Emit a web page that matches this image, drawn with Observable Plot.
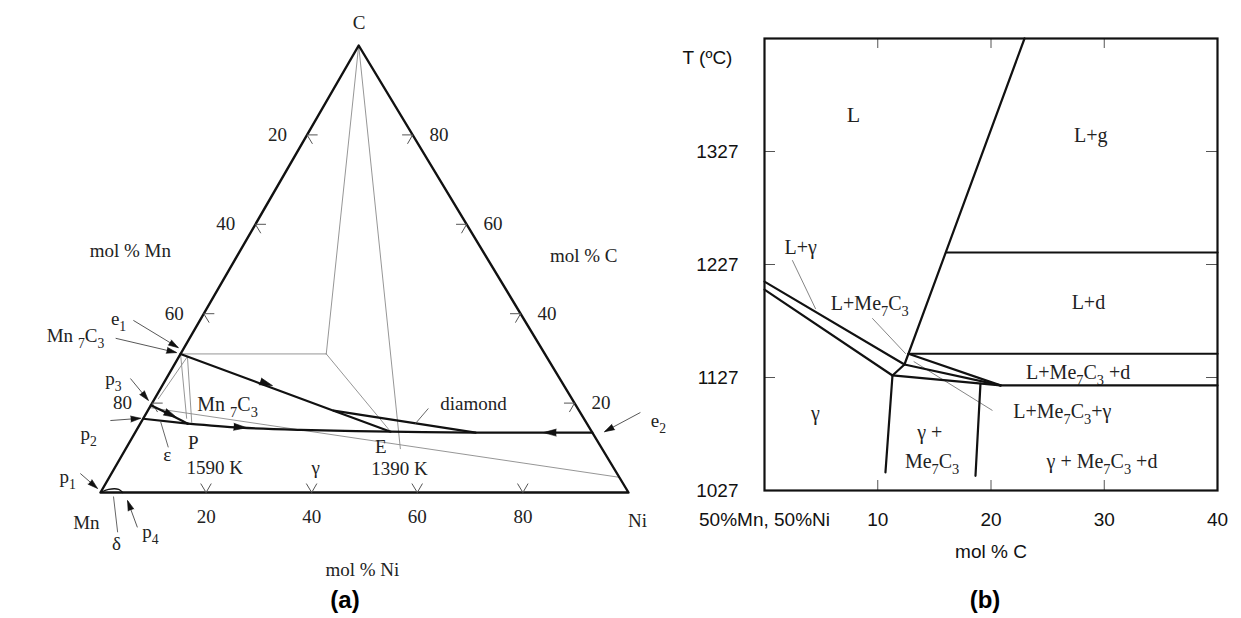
<!DOCTYPE html>
<html>
<head>
<meta charset="utf-8">
<script src="https://cdn.jsdelivr.net/npm/d3@7"></script>
<script src="https://cdn.jsdelivr.net/npm/@observablehq/plot@0.6"></script>
<style>
  body { margin: 0; background: #fff; }
  #wrap { position: relative; width: 1241px; height: 618px; overflow: hidden; background: #fff; }
  #wrap svg { position: absolute; left: 0; top: 0; }
  .cap { position: absolute; font: bold 24px "Liberation Sans", Arial, sans-serif; transform: translate(-50%, -50%); }
</style>
</head>
<body>
<div id="wrap">
  <div class="cap" style="left:345px;top:600px">(a)</div>
  <div class="cap" style="left:985px;top:600px">(b)</div>
</div>
<script>
// ---------- (a) Mn–Ni–C liquidus projection; compositions are [mol % Ni, mol % C] ----------
const triangle = [[0, 0], [100, 0], [0, 100], [0, 0]];
const gridTicks = [20, 40, 60, 80];

// monovariant (bold) lines
const p3ToP = [[0, 19.5], [4.7, 17.4], [9, 15.4]];
const p2ToP = [[0, 16.5], [9, 15.4]];
const pToE2 = [[9, 15.4], [19.4, 14.5], [31, 14], [48.3, 13.6], [64.5, 13.4], [86.6, 13.4]];
const e1ToE = [[0, 31], [35.2, 18.3], [48.3, 13.6]];
const diamondEdge = [[35.2, 18.3], [64.5, 13.4]];
const deltaField = [[0, 0], [1.2, 0.7], [3.1, 0.7], [4.2, 0]];

// thin tie lines
const tieLines = [
  [[0, 31], [27.6, 31]],
  [[27.6, 31], [0, 100]],
  [[27.6, 31], [48.3, 13.6]],
  [[0, 100], [52, 9.8]],
  [[0, 19], [96.6, 3.4]],
  [[0, 31], [8.2, 16.6]],
  [[1.6, 30.4], [9.6, 15.7]],
  [[1.6, 30.4], [0.7, 21]]
];

// arrows pointing at the invariant points
const pointers = [
  {from: [-12.6, 38.5], to: [-1.1, 32.4]},
  {from: [-14, 34.5], to: [-0.9, 31.3]},
  {from: [-6.8, 25.5], to: [-1.0, 20.6]},
  {from: [-6, 16.1], to: [-0.5, 16.6]},
  {from: [-5.9, 4.25], to: [-1, 0.9]},
  {from: [10.8, -7.8], to: [6, -1.8]},
  {from: [93.5, 17.9], to: [88.8, 13.6]}
];
// leader lines without heads
const leaders = [
  {from: [7.6, -8.9], to: [2.9, -0.9]},
  {from: [7.9, 10.1], to: [3.6, 15.9]},
  {from: [52.9, 18.8], to: [52.1, 15.4]}
];
// direction of falling temperature along the monovariant lines
const flowHeads = [
  {from: [0, 31], to: [20.9, 23.9]},
  {from: [0, 19.5], to: [6.2, 16.8]},
  {from: [9, 15.4], to: [20.6, 14.5]},
  {from: [86.6, 13.4], to: [77.3, 13.4]}
];

const labelsA = [
  {text: "C", at: [-2.4, 105.1]},
  {text: "Mn", at: [0.7, -6.9]},
  {text: "Ni", at: [104.8, -6.3]},
  {text: "mol % Mn", at: [-20.8, 54.1]},
  {text: "mol % C", at: [65.6, 53]},
  {text: "mol % Ni", at: [58.1, -17.4]},
  {text: "e₁", at: [-15.6, 38.9]},
  {text: "Mn ₇C₃", at: [-21.9, 35.1]},
  {text: "p₃", at: [-10, 25.5]},
  {text: "p₂", at: [-8.7, 13.2]},
  {text: "p₁", at: [-7.9, 3.4]},
  {text: "δ", at: [8.7, -11.6]},
  {text: "p₄", at: [13.8, -8.9]},
  {text: "e₂", at: [97.8, 16.1]},
  {text: "P", at: [12.2, 11]},
  {text: "1590 K", at: [19, 5.4]},
  {text: "ε", at: [8.6, 8.3]},
  {text: "γ", at: [38, 5.6]},
  {text: "E", at: [48.1, 10.2]},
  {text: "1390 K", at: [54.1, 5.2]},
  {text: "diamond", at: [60.9, 19.9]}
];
const phaseLabelA = {text: "Mn ₇C₃", at: [8.7, 19.7]};

// ---------- (b) isopleth section 50%Mn–50%Ni to C ----------
const carbonTicks = [0, 10, 20, 30, 40];
const tempTicks = [1027, 1127, 1227, 1327];
const tempTop = 1427;

const boundariesB = [
  [[22.96, 1427], [12.36, 1138.5]],
  [[16.07, 1237.6], [40, 1237.6]],
  [[12.71, 1148], [40, 1148]],
  [[20.84, 1120], [40, 1120]],
  [[0, 1211.8], [12.36, 1138.5]],
  [[0, 1204.7], [11.30, 1128.8]],
  [[12.71, 1148], [20.84, 1120]],
  [[12.36, 1138.5], [20.84, 1120]],
  [[11.30, 1128.8], [20.84, 1120]],
  [[12.36, 1138.5], [11.30, 1128.8]],
  [[11.30, 1128.8], [10.68, 1043]],
  [[19.07, 1121.6], [18.63, 1040]]
];
const leadersB = [
  [[2.47, 1230.5], [4.50, 1188]],
  [[9.54, 1179.2], [12.45, 1148.2]],
  [[13.2, 1141], [20.1, 1098]]
];
const labelsB = [
  {text: "L", x: 7.86, t: 1359, size: 22},
  {text: "L+g", x: 28.8, t: 1341, size: 20},
  {text: "L+γ", x: 3.2, t: 1242, size: 20},
  {text: "L+Me₇C₃", x: 9.3, t: 1192, size: 20},
  {text: "L+d", x: 28.6, t: 1193, size: 20},
  {text: "L+Me₇C₃ +d", x: 27.7, t: 1131, size: 20},
  {text: "L+Me₇C₃+γ", x: 26.3, t: 1097, size: 20},
  {text: "γ", x: 4.5, t: 1095, size: 20},
  {text: "γ +", x: 14.6, t: 1078, size: 20},
  {text: "Me₇C₃", x: 14.8, t: 1053, size: 20},
  {text: "γ + Me₇C₃ +d", x: 29.8, t: 1053, size: 20}
];

// ---------- drawing (a) ----------
const frameA = {left: 100, right: 628, top: 45, bottom: 492};
const skew = 0.489;                       // horizontal position of the C apex along the base
const kx = (frameA.right - frameA.left) / 100;
const ky = (frameA.bottom - frameA.top) / 100;
const tx = ([ni, c]) => ni + skew * c;
const ty = ([ni, c]) => c;
const heading = (a, b) => Math.atan2(kx * (tx(b) - tx(a)), ky * (ty(b) - ty(a))) * 180 / Math.PI;

const serif = "Liberation Serif, Times New Roman, serif";
const sans = "Liberation Sans, Arial, sans-serif";

const segs = (list) => list.flatMap((pts, i) => pts.map(p => ({p, i})));

// edge tick marks along the two inward grid directions
const edgeTicks = gridTicks.flatMap(v => [
  {from: [v, 0], to: [v, 2]}, {from: [v, 0], to: [v - 2, 2]},
  {from: [0, v], to: [2, v]}, {from: [0, v], to: [2, v - 2]},
  {from: [100 - v, v], to: [98 - v, v]}, {from: [100 - v, v], to: [100 - v, v - 2]}
]);
const tickLabels = gridTicks.flatMap(v => [
  {text: String(v), at: [v + 2.7, -5.5]},
  {text: String(v), at: [-5.6, 100 - v]},
  {text: String(v), at: [105 - v, v]}
]);

const boldLines = [p3ToP, p2ToP, pToE2, e1ToE, diamondEdge];

const plotA = Plot.plot({
  width: 1241, height: 618,
  marginLeft: frameA.left, marginRight: 1241 - frameA.right,
  marginTop: frameA.top, marginBottom: 618 - frameA.bottom,
  x: {domain: [0, 100], axis: null},
  y: {domain: [0, 100], axis: null},
  style: {background: "transparent", overflow: "visible"},
  marks: [
    Plot.line(segs(tieLines), {x: d => tx(d.p), y: d => ty(d.p), z: "i", stroke: "#8a8a8a", strokeWidth: 0.9}),
    Plot.line(triangle, {x: tx, y: ty, stroke: "#111", strokeWidth: 2.4}),
    Plot.link(edgeTicks, {x1: d => tx(d.from), y1: d => ty(d.from), x2: d => tx(d.to), y2: d => ty(d.to), stroke: "#555", strokeWidth: 1}),
    Plot.line(segs(boldLines), {x: d => tx(d.p), y: d => ty(d.p), z: "i", stroke: "#111", strokeWidth: 2.2, curve: "catmull-rom"}),
    Plot.line(deltaField, {x: tx, y: ty, stroke: "#111", strokeWidth: 1.3, curve: "catmull-rom"}),
    Plot.link(pointers, {x1: d => tx(d.from), y1: d => ty(d.from), x2: d => tx(d.to), y2: d => ty(d.to), stroke: "#444", strokeWidth: 0.9}),
    Plot.link(leaders, {x1: d => tx(d.from), y1: d => ty(d.from), x2: d => tx(d.to), y2: d => ty(d.to), stroke: "#555", strokeWidth: 0.9}),
    Plot.vector(pointers, {x: d => tx(d.to), y: d => ty(d.to), rotate: d => heading(d.from, d.to),
      length: 10, r: 3, shape: "spike", anchor: "end", fill: "#111", stroke: "#111", strokeWidth: 0.6}),
    Plot.vector(flowHeads, {x: d => tx(d.to), y: d => ty(d.to), rotate: d => heading(d.from, d.to),
      length: 13, r: 3.5, shape: "spike", anchor: "end", fill: "#111", stroke: "#111", strokeWidth: 0.6}),
    Plot.text(tickLabels, {x: d => tx(d.at), y: d => ty(d.at), text: "text", fontFamily: serif, fontSize: 19, fill: "#222"}),
    Plot.text(labelsA, {x: d => tx(d.at), y: d => ty(d.at), text: "text", fontFamily: serif, fontSize: 19, fill: "#222"}),
    Plot.text([phaseLabelA], {x: d => tx(d.at), y: d => ty(d.at), text: "text", textAnchor: "start", fontFamily: serif, fontSize: 20, fill: "#222"})
  ]
});

// ---------- drawing (b) ----------
const frameB = {left: 764, right: 1217, top: 38, bottom: 490};
const cUnit = 40 / (frameB.right - frameB.left);   // mol % C per pixel
const tUnit = (tempTop - 1027) / (frameB.bottom - frameB.top); // °C per pixel
const inner = tempTicks.slice(1);
const innerC = carbonTicks.slice(1, 4);

const plotB = Plot.plot({
  width: 1241, height: 618,
  marginLeft: frameB.left, marginRight: 1241 - frameB.right,
  marginTop: frameB.top, marginBottom: 618 - frameB.bottom,
  x: {domain: [0, 40], label: null},
  y: {domain: [1027, tempTop], label: null},
  style: {background: "transparent", overflow: "visible"},
  marks: [
    Plot.axisY(tempTicks, {tickSize: 0, tickPadding: 26, fontSize: 19, fontFamily: sans, color: "#111",
      tickFormat: d => String(d), label: null}),
    Plot.axisX(carbonTicks, {tickSize: 0, tickPadding: 22, fontSize: 19, fontFamily: sans, color: "#111",
      tickFormat: d => d === 0 ? "50%Mn, 50%Ni" : String(d), label: null}),
    Plot.text(["T (ºC)"], {frameAnchor: "top-left", dx: -57, dy: 12, textAnchor: "middle", fontSize: 19, fontFamily: sans, fill: "#111"}),
    Plot.text(["mol % C"], {x: 20, frameAnchor: "bottom", dy: 67, fontSize: 19, fontFamily: sans, fill: "#111"}),
    Plot.ruleY(inner, {x1: 0, x2: 11 * cUnit, stroke: "#555", strokeWidth: 1}),
    Plot.ruleY(inner, {x1: 40 - 11 * cUnit, x2: 40, stroke: "#555", strokeWidth: 1}),
    Plot.ruleX(innerC, {y1: tempTop - 10 * tUnit, y2: tempTop, stroke: "#555", strokeWidth: 1}),
    Plot.ruleX(innerC, {y1: 1027, y2: 1027 + 10 * tUnit, stroke: "#555", strokeWidth: 1}),
    Plot.line(segs(leadersB), {x: d => d.p[0], y: d => d.p[1], z: "i", stroke: "#777", strokeWidth: 0.9}),
    Plot.line(segs(boundariesB), {x: d => d.p[0], y: d => d.p[1], z: "i", stroke: "#111", strokeWidth: 2.2}),
    Plot.frame({stroke: "#111", strokeWidth: 2.2}),
    Plot.text(labelsB, {x: "x", y: "t", text: "text", fontSize: d => d.size, fontFamily: serif, fill: "#222"})
  ]
});

// typeset subscript digits as smaller, lowered runs
const SUB = "₀₁₂₃₄₅₆₇₈₉";
function typesetSubscripts(svg) {
  const ns = "http://www.w3.org/2000/svg";
  svg.querySelectorAll("text").forEach(t => {
    const s = t.textContent;
    if (![...s].some(ch => SUB.includes(ch))) return;
    t.textContent = "";
    let lowered = false;
    for (const run of s.match(/[₀-₉]+|[^₀-₉]+/g)) {
      const span = document.createElementNS(ns, "tspan");
      const isSub = SUB.includes(run[0]);
      if (isSub) {
        span.textContent = [...run].map(ch => SUB.indexOf(ch)).join("");
        span.setAttribute("font-size", "72%");
        span.setAttribute("dy", "6");
        lowered = true;
      } else {
        span.textContent = run;
        if (lowered) { span.setAttribute("dy", "-6"); lowered = false; }
      }
      t.appendChild(span);
    }
  });
}
typesetSubscripts(plotA);
typesetSubscripts(plotB);

const wrap = document.getElementById("wrap");
wrap.appendChild(plotA);
wrap.appendChild(plotB);
</script>
</body>
</html>
